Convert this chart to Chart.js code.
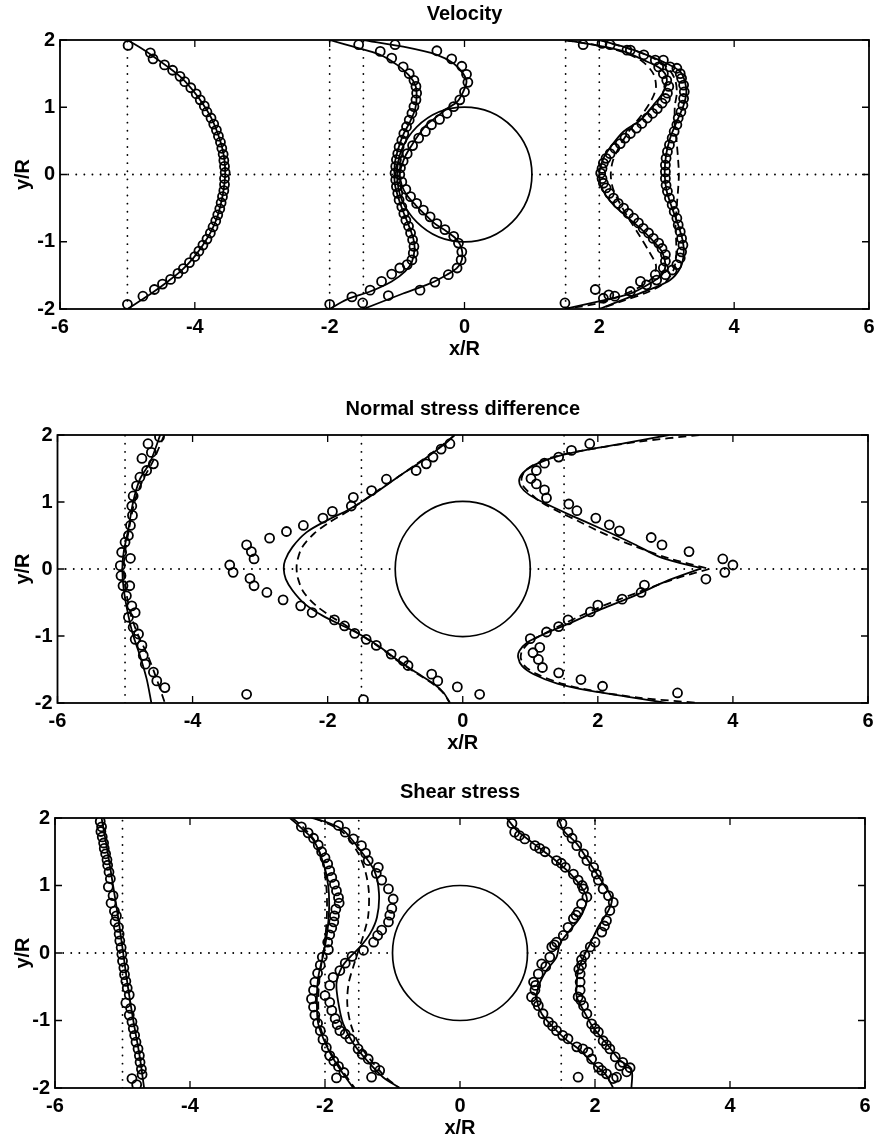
<!DOCTYPE html>
<html>
<head>
<meta charset="utf-8">
<script src="https://cdn.jsdelivr.net/npm/chart.js@4.4.1/dist/chart.umd.min.js"></script>
<style>
  html, body { margin: 0; padding: 0; background: #fff; }
  body { width: 881px; height: 1146px; position: relative; overflow: hidden; }
  canvas { position: absolute; left: 0; }
</style>
</head>
<body>
<canvas id="vel" width="881" height="395" style="top:0px"></canvas>
<canvas id="nsd" width="881" height="383" style="top:395px"></canvas>
<canvas id="shear" width="881" height="368" style="top:778px"></canvas>
<script>
// Axis ticks shared by the three panels
const xTickValues = [-6, -4, -2, 0, 2, 4, 6];
const yTickValues = [-2, -1, 0, 1, 2];
const cylinderRadius = 1;

// Measurement stations (vertical dotted guides)
const velStations = [-5, -2, -1.5, 1.5, 2];
const nsdStations = [-5, -1.5, 1.5];
const shearStations = [-5, -2, -1.5, 1.5, 2];

// ---------- Velocity ----------
const velM5Line = [[-5.00,2.00],[-4.80,1.88],[-4.62,1.76],[-4.40,1.60],[-4.20,1.44],[-4.02,1.24],[-3.88,1.05],[-3.76,0.85],[-3.67,0.64],[-3.60,0.42],[-3.56,0.21],[-3.55,0.00],[-3.57,-0.21],[-3.61,-0.42],[-3.67,-0.64],[-3.76,-0.85],[-3.88,-1.05],[-4.02,-1.24],[-4.20,-1.43],[-4.40,-1.59],[-4.62,-1.75],[-4.80,-1.87],[-5.00,-2.00]];
const velM5Pts = [[-4.99,1.92],[-4.66,1.81],[-4.62,1.72],[-4.45,1.63],[-4.33,1.55],[-4.22,1.46],[-4.15,1.38],[-4.06,1.29],[-3.98,1.20],[-3.92,1.11],[-3.86,1.02],[-3.82,0.93],[-3.76,0.84],[-3.72,0.75],[-3.68,0.66],[-3.65,0.57],[-3.62,0.48],[-3.60,0.39],[-3.58,0.30],[-3.57,0.21],[-3.56,0.12],[-3.55,0.03],[-3.56,-0.06],[-3.56,-0.15],[-3.57,-0.24],[-3.59,-0.33],[-3.61,-0.42],[-3.63,-0.51],[-3.66,-0.60],[-3.69,-0.69],[-3.73,-0.78],[-3.77,-0.87],[-3.82,-0.96],[-3.88,-1.05],[-3.94,-1.14],[-4.00,-1.22],[-4.08,-1.31],[-4.17,-1.40],[-4.25,-1.47],[-4.36,-1.56],[-4.48,-1.63],[-4.60,-1.71],[-4.77,-1.81],[-5.00,-1.93]];

const velM2Line = [[-2.00,2.00],[-1.65,1.90],[-1.25,1.78],[-1.00,1.63],[-0.83,1.48],[-0.73,1.33],[-0.71,1.18],[-0.73,0.98],[-0.81,0.78],[-0.91,0.59],[-0.98,0.39],[-1.03,0.19],[-1.04,0.00],[-1.03,-0.16],[-0.98,-0.35],[-0.91,-0.55],[-0.83,-0.75],[-0.76,-0.95],[-0.74,-1.10],[-0.78,-1.30],[-0.88,-1.44],[-1.08,-1.59],[-1.40,-1.74],[-1.75,-1.86],[-2.00,-2.00]];
const velM2Pts = [[-1.57,1.93],[-1.25,1.83],[-1.08,1.73],[-0.91,1.60],[-0.82,1.50],[-0.75,1.40],[-0.72,1.31],[-0.71,1.21],[-0.72,1.11],[-0.75,1.01],[-0.78,0.91],[-0.82,0.81],[-0.86,0.71],[-0.90,0.61],[-0.93,0.51],[-0.97,0.41],[-0.99,0.31],[-1.01,0.22],[-1.02,0.12],[-1.03,0.02],[-1.02,-0.08],[-1.01,-0.18],[-0.99,-0.28],[-0.97,-0.38],[-0.93,-0.48],[-0.90,-0.58],[-0.87,-0.68],[-0.83,-0.77],[-0.80,-0.87],[-0.77,-0.97],[-0.75,-1.07],[-0.76,-1.17],[-0.78,-1.27],[-0.85,-1.34],[-0.96,-1.39],[-1.08,-1.48],[-1.23,-1.59],[-1.40,-1.72],[-1.67,-1.82],[-2.00,-1.93]];

const velM15Line = [[-1.50,2.00],[-0.91,1.90],[-0.41,1.78],[-0.16,1.65],[-0.02,1.50],[0.03,1.38],[-0.02,1.23],[-0.11,1.08],[-0.26,0.98],[-0.41,0.86],[-0.56,0.74],[-0.68,0.59],[-0.78,0.44],[-0.87,0.29],[-0.93,0.14],[-0.96,0.00],[-0.93,-0.16],[-0.86,-0.30],[-0.73,-0.45],[-0.58,-0.60],[-0.44,-0.73],[-0.26,-0.85],[-0.11,-0.97],[-0.04,-1.12],[-0.04,-1.27],[-0.11,-1.39],[-0.26,-1.49],[-0.51,-1.62],[-0.91,-1.77],[-1.50,-2.00]];
const velM15Pts = [[-1.03,1.93],[-0.41,1.84],[-0.19,1.72],[-0.04,1.61],[0.03,1.49],[0.05,1.37],[0.00,1.23],[-0.07,1.11],[-0.16,1.01],[-0.26,0.91],[-0.37,0.82],[-0.49,0.74],[-0.58,0.64],[-0.68,0.54],[-0.77,0.43],[-0.85,0.31],[-0.91,0.20],[-0.95,0.10],[-0.96,0.00],[-0.93,-0.11],[-0.87,-0.22],[-0.80,-0.33],[-0.71,-0.43],[-0.61,-0.53],[-0.51,-0.63],[-0.41,-0.73],[-0.29,-0.82],[-0.16,-0.92],[-0.09,-1.02],[-0.04,-1.15],[-0.05,-1.27],[-0.11,-1.39],[-0.24,-1.49],[-0.44,-1.60],[-0.66,-1.72],[-1.13,-1.80],[-1.51,-1.91]];

const vel15Line = [[1.49,2.00],[1.96,1.92],[2.36,1.83],[2.66,1.70],[2.90,1.58],[3.00,1.43],[2.95,1.23],[2.80,1.03],[2.61,0.81],[2.36,0.64],[2.19,0.44],[2.07,0.26],[2.01,0.09],[2.00,0.00],[2.02,-0.16],[2.09,-0.30],[2.21,-0.45],[2.41,-0.63],[2.61,-0.80],[2.78,-0.97],[2.93,-1.15],[2.98,-1.34],[2.93,-1.49],[2.75,-1.62],[2.46,-1.77],[2.06,-1.87],[1.49,-2.00]];
const vel15Dash = [[1.49,2.00],[1.96,1.92],[2.36,1.82],[2.64,1.68],[2.80,1.50],[2.84,1.30],[2.78,1.12],[2.64,0.90],[2.45,0.66],[2.30,0.42],[2.20,0.20],[2.17,0.00],[2.20,-0.20],[2.30,-0.42],[2.44,-0.66],[2.59,-0.90],[2.74,-1.15],[2.84,-1.35],[2.80,-1.52],[2.62,-1.66],[2.32,-1.80],[1.96,-1.92],[1.49,-2.00]];
const vel15Pts = [[1.76,1.93],[2.16,1.93],[2.41,1.85],[2.66,1.78],[2.88,1.60],[2.95,1.50],[3.00,1.40],[3.03,1.31],[3.01,1.21],[2.98,1.13],[2.93,1.06],[2.86,0.98],[2.79,0.91],[2.71,0.84],[2.63,0.76],[2.55,0.69],[2.46,0.61],[2.38,0.54],[2.31,0.46],[2.23,0.39],[2.16,0.31],[2.10,0.24],[2.06,0.17],[2.04,0.09],[2.02,0.02],[2.04,-0.06],[2.06,-0.13],[2.10,-0.20],[2.15,-0.28],[2.21,-0.35],[2.28,-0.43],[2.36,-0.50],[2.43,-0.58],[2.51,-0.65],[2.58,-0.72],[2.65,-0.80],[2.73,-0.87],[2.80,-0.95],[2.88,-1.02],[2.93,-1.10],[2.98,-1.19],[2.98,-1.29],[2.95,-1.39],[2.83,-1.49],[2.61,-1.59],[2.14,-1.79],[1.94,-1.71],[1.49,-1.91]];

const vel2Line = [[2.00,2.00],[2.36,1.90],[2.70,1.78],[3.00,1.65],[3.20,1.53],[3.27,1.38],[3.29,1.21],[3.25,1.03],[3.15,0.79],[3.05,0.54],[2.99,0.29],[2.97,0.00],[3.00,-0.25],[3.08,-0.50],[3.17,-0.75],[3.24,-1.00],[3.25,-1.20],[3.20,-1.39],[3.05,-1.57],[2.80,-1.69],[2.46,-1.82],[2.00,-2.00]];
const vel2Dash = [[2.00,2.00],[2.38,1.89],[2.74,1.76],[3.00,1.60],[3.12,1.42],[3.15,1.22],[3.12,1.02],[3.12,0.75],[3.15,0.45],[3.17,0.20],[3.18,0.00],[3.17,-0.20],[3.15,-0.45],[3.13,-0.75],[3.14,-1.00],[3.14,-1.22],[3.10,-1.42],[2.98,-1.60],[2.74,-1.74],[2.38,-1.87],[2.00,-2.00]];
const vel2Pts = [[2.04,1.95],[2.46,1.85],[2.83,1.70],[2.95,1.70],[3.05,1.60],[3.15,1.58],[3.20,1.50],[3.22,1.43],[3.25,1.33],[3.26,1.23],[3.25,1.13],[3.24,1.03],[3.21,0.93],[3.17,0.84],[3.15,0.74],[3.11,0.64],[3.08,0.54],[3.04,0.44],[3.01,0.34],[2.99,0.24],[2.98,0.14],[2.98,0.04],[2.98,-0.06],[2.99,-0.16],[3.01,-0.25],[3.04,-0.35],[3.08,-0.45],[3.11,-0.55],[3.15,-0.65],[3.17,-0.75],[3.20,-0.85],[3.22,-0.95],[3.24,-1.05],[3.22,-1.15],[3.20,-1.24],[3.15,-1.34],[3.08,-1.42],[2.98,-1.49],[2.85,-1.57],[2.70,-1.64],[2.46,-1.74],[2.23,-1.81],[2.06,-1.84]];

// ---------- Normal stress difference ----------
const nsdM5Line = [[-4.48,2.00],[-4.63,1.59],[-4.78,1.34],[-4.88,1.00],[-4.95,0.60],[-5.02,0.25],[-5.04,0.00],[-5.02,-0.30],[-4.95,-0.70],[-4.88,-0.99],[-4.78,-1.29],[-4.68,-1.64],[-4.61,-2.00]];
const nsdM5Dash = [[-4.42,2.00],[-4.58,1.62],[-4.74,1.32],[-4.86,1.00],[-4.94,0.60],[-5.00,0.25],[-5.02,0.00],[-4.99,-0.30],[-4.91,-0.70],[-4.80,-1.00],[-4.66,-1.30],[-4.54,-1.62],[-4.41,-2.00]];
const nsdM5Pts = [[-4.49,1.97],[-4.66,1.87],[-4.61,1.74],[-4.75,1.65],[-4.58,1.57],[-4.68,1.47],[-4.78,1.37],[-4.83,1.24],[-4.88,1.09],[-4.90,0.94],[-4.89,0.80],[-4.92,0.65],[-4.95,0.50],[-5.00,0.40],[-5.05,0.25],[-4.92,0.16],[-5.07,0.05],[-5.06,-0.10],[-5.03,-0.25],[-4.93,-0.25],[-4.98,-0.40],[-4.90,-0.55],[-4.85,-0.65],[-4.95,-0.72],[-4.88,-0.87],[-4.80,-0.97],[-4.85,-1.05],[-4.75,-1.14],[-4.73,-1.29],[-4.70,-1.42],[-4.58,-1.54],[-4.53,-1.67],[-4.41,-1.77]];

const nsdM15Line = [[-0.12,2.00],[-0.25,1.88],[-0.42,1.75],[-0.68,1.56],[-0.95,1.38],[-1.23,1.18],[-1.50,1.00],[-1.72,0.87],[-2.02,0.72],[-2.31,0.55],[-2.52,0.33],[-2.63,0.13],[-2.65,0.00],[-2.62,-0.15],[-2.52,-0.32],[-2.34,-0.52],[-2.07,-0.70],[-1.77,-0.85],[-1.50,-0.99],[-1.23,-1.16],[-0.95,-1.37],[-0.68,-1.55],[-0.42,-1.72],[-0.28,-1.85],[-0.19,-2.00]];
const nsdM15Dash = [[-0.12,2.00],[-0.25,1.89],[-0.42,1.76],[-0.68,1.57],[-0.95,1.38],[-1.23,1.19],[-1.50,1.00],[-1.72,0.85],[-1.97,0.70],[-2.20,0.53],[-2.38,0.32],[-2.45,0.12],[-2.46,0.00],[-2.44,-0.14],[-2.36,-0.34],[-2.18,-0.54],[-1.96,-0.70],[-1.72,-0.85],[-1.50,-0.99],[-1.23,-1.17],[-0.95,-1.38],[-0.68,-1.56],[-0.42,-1.73],[-0.28,-1.86],[-0.19,-2.00]];
const nsdM15Pts = [[-3.45,0.06],[-3.40,-0.05],[-3.20,0.36],[-3.13,0.26],[-3.09,0.15],[-3.15,-0.14],[-3.09,-0.25],[-2.90,-0.35],[-2.66,-0.46],[-2.40,-0.55],[-2.23,-0.65],[-2.86,0.46],[-2.61,0.56],[-2.36,0.65],[-2.07,0.76],[-1.93,0.86],[-1.65,0.94],[-1.62,1.07],[-1.35,1.17],[-1.13,1.34],[-0.69,1.47],[-0.54,1.57],[-0.44,1.67],[-0.32,1.79],[-0.19,1.87],[-1.90,-0.76],[-1.75,-0.85],[-1.60,-0.96],[-1.43,-1.05],[-1.28,-1.14],[-1.06,-1.27],[-0.88,-1.37],[-0.81,-1.44],[-0.46,-1.57],[-0.37,-1.67],[-3.20,-1.87],[-1.47,-1.95],[-0.08,-1.76],[0.25,-1.87]];

const nsd15UpperLine = [[3.05,2.00],[2.40,1.88],[1.85,1.78],[1.40,1.68],[1.12,1.58],[0.93,1.47],[0.84,1.35],[0.86,1.23],[0.98,1.11],[1.18,1.00],[1.56,0.82],[2.05,0.60],[2.54,0.37],[2.94,0.17],[3.53,0.01]];
const nsd15LowerLine = [[3.53,0.01],[3.04,-0.17],[2.54,-0.40],[2.05,-0.60],[1.56,-0.82],[1.16,-0.99],[0.95,-1.10],[0.84,-1.22],[0.82,-1.32],[0.88,-1.45],[1.05,-1.57],[1.40,-1.71],[1.90,-1.82],[2.40,-1.90],[3.02,-2.00]];
const nsd15UpperDash = [[3.50,2.00],[2.60,1.90],[1.90,1.79],[1.40,1.69],[1.10,1.58],[0.93,1.47],[0.87,1.35],[0.90,1.23],[1.02,1.11],[1.14,1.01],[1.45,0.84],[1.70,0.72],[1.98,0.58],[2.27,0.45],[2.60,0.32],[3.05,0.16],[3.65,0.00]];
const nsd15LowerDash = [[3.65,0.00],[3.13,-0.15],[2.59,-0.35],[2.30,-0.46],[1.98,-0.59],[1.70,-0.72],[1.45,-0.84],[1.14,-1.00],[0.98,-1.10],[0.88,-1.22],[0.86,-1.33],[0.92,-1.45],[1.10,-1.57],[1.50,-1.72],[2.00,-1.83],[2.60,-1.92],[3.50,-2.00]];
const nsd15Pts = [[1.88,1.87],[1.61,1.77],[1.42,1.67],[1.21,1.58],[1.09,1.47],[1.01,1.35],[1.09,1.27],[1.21,1.18],[1.24,1.06],[1.57,0.97],[1.69,0.87],[1.97,0.76],[2.17,0.66],[2.32,0.57],[2.79,0.47],[2.95,0.36],[3.35,0.26],[3.85,0.15],[4.00,0.06],[3.88,-0.05],[3.60,-0.15],[2.69,-0.24],[2.64,-0.35],[2.36,-0.45],[2.00,-0.54],[1.89,-0.64],[1.56,-0.76],[1.42,-0.86],[1.24,-0.94],[1.00,-1.04],[1.14,-1.17],[1.04,-1.25],[1.12,-1.35],[1.18,-1.47],[1.42,-1.55],[1.75,-1.65],[2.07,-1.75],[3.18,-1.85]];

// ---------- Shear stress ----------
const shM5Line = [[-5.31,2.00],[-5.22,1.50],[-5.14,1.00],[-5.06,0.50],[-4.99,0.00],[-4.92,-0.50],[-4.84,-1.00],[-4.75,-1.50],[-4.68,-2.00]];
const shM5Pts = [[-5.33,1.95],[-5.31,1.87],[-5.32,1.80],[-5.30,1.72],[-5.28,1.63],[-5.27,1.55],[-5.25,1.47],[-5.23,1.38],[-5.22,1.30],[-5.20,1.20],[-5.18,1.10],[-5.21,0.98],[-5.14,0.85],[-5.17,0.74],[-5.12,0.62],[-5.09,0.55],[-5.11,0.46],[-5.06,0.38],[-5.05,0.28],[-5.04,0.18],[-5.02,0.08],[-5.01,-0.02],[-5.00,-0.12],[-4.98,-0.22],[-4.97,-0.32],[-4.95,-0.42],[-4.93,-0.52],[-4.90,-0.62],[-4.95,-0.74],[-4.88,-0.82],[-4.90,-0.92],[-4.86,-1.02],[-4.84,-1.12],[-4.82,-1.22],[-4.80,-1.32],[-4.77,-1.42],[-4.75,-1.52],[-4.74,-1.62],[-4.72,-1.72],[-4.71,-1.80],[-4.86,-1.86],[-4.79,-1.95]];

const shM2Line = [[-2.52,2.00],[-2.35,1.85],[-2.17,1.67],[-2.02,1.32],[-1.95,0.98],[-1.94,0.63],[-1.97,0.29],[-2.02,0.00],[-2.10,-0.36],[-2.12,-0.70],[-2.10,-1.05],[-1.97,-1.39],[-1.80,-1.69],[-1.58,-2.00]];
const shM2Dash = [[-2.48,2.00],[-2.30,1.84],[-2.14,1.64],[-2.03,1.32],[-1.98,0.98],[-1.97,0.63],[-1.99,0.29],[-2.03,0.00],[-2.08,-0.36],[-2.10,-0.70],[-2.08,-1.05],[-1.96,-1.39],[-1.78,-1.69],[-1.56,-2.00]];
const shM2Pts = [[-2.35,1.87],[-2.25,1.78],[-2.17,1.70],[-2.10,1.60],[-2.05,1.50],[-2.00,1.41],[-1.96,1.32],[-1.93,1.22],[-1.90,1.12],[-1.86,1.02],[-1.83,0.92],[-1.80,0.82],[-1.79,0.74],[-1.84,0.65],[-1.86,0.55],[-1.87,0.46],[-1.90,0.37],[-1.93,0.27],[-1.96,0.16],[-1.95,0.05],[-2.04,-0.06],[-2.07,-0.18],[-2.11,-0.30],[-2.15,-0.43],[-2.17,-0.55],[-2.20,-0.68],[-2.17,-0.80],[-2.15,-0.92],[-2.11,-1.04],[-2.07,-1.15],[-2.03,-1.28],[-1.98,-1.40],[-1.93,-1.52],[-1.87,-1.60],[-1.80,-1.68],[-1.72,-1.77],[-1.83,-1.85]];

const shM15Line = [[-2.20,2.00],[-1.95,1.93],[-1.73,1.82],[-1.50,1.55],[-1.27,1.22],[-1.20,0.88],[-1.23,0.53],[-1.33,0.29],[-1.48,0.09],[-1.63,-0.06],[-1.75,-0.21],[-1.83,-0.45],[-1.80,-0.75],[-1.73,-1.05],[-1.58,-1.34],[-1.38,-1.59],[-1.14,-1.84],[-0.89,-2.00]];
const shM15Dash = [[-2.15,2.00],[-1.75,1.80],[-1.52,1.50],[-1.40,1.20],[-1.35,0.90],[-1.36,0.55],[-1.42,0.30],[-1.50,0.05],[-1.58,-0.20],[-1.65,-0.45],[-1.67,-0.75],[-1.62,-1.05],[-1.50,-1.34],[-1.32,-1.59],[-1.10,-1.84],[-0.90,-2.00]];
const shM15Pts = [[-1.80,1.89],[-1.70,1.79],[-1.58,1.69],[-1.46,1.59],[-1.40,1.48],[-1.36,1.37],[-1.21,1.27],[-1.24,1.18],[-1.16,1.08],[-1.06,0.95],[-0.99,0.80],[-1.01,0.66],[-1.04,0.56],[-1.06,0.46],[-1.16,0.34],[-1.22,0.26],[-1.28,0.16],[-1.43,0.04],[-1.60,-0.05],[-1.70,-0.15],[-1.78,-0.26],[-1.88,-0.36],[-1.93,-0.48],[-2.00,-0.63],[-1.93,-0.73],[-1.90,-0.85],[-1.85,-0.97],[-1.82,-1.06],[-1.78,-1.15],[-1.70,-1.20],[-1.63,-1.27],[-1.51,-1.42],[-1.45,-1.50],[-1.36,-1.57],[-1.26,-1.69],[-1.19,-1.74],[-1.31,-1.84]];

const sh15Line = [[0.69,2.00],[0.84,1.82],[1.09,1.62],[1.38,1.40],[1.63,1.18],[1.83,0.93],[1.88,0.78],[1.78,0.53],[1.63,0.34],[1.48,0.14],[1.43,-0.06],[1.28,-0.26],[1.16,-0.50],[1.14,-0.70],[1.21,-0.90],[1.38,-1.10],[1.58,-1.29],[1.78,-1.44],[1.97,-1.64],[2.15,-1.79],[2.27,-2.00]];
const sh15Pts = [[0.77,1.92],[0.81,1.79],[0.88,1.74],[0.96,1.69],[1.11,1.59],[1.18,1.55],[1.26,1.50],[1.43,1.37],[1.50,1.33],[1.56,1.27],[1.68,1.17],[1.75,1.08],[1.81,1.00],[1.83,0.95],[1.88,0.83],[1.80,0.73],[1.75,0.61],[1.72,0.56],[1.68,0.51],[1.60,0.38],[1.53,0.26],[1.43,0.16],[1.40,0.12],[1.36,0.09],[1.33,-0.06],[1.21,-0.16],[1.27,-0.20],[1.16,-0.31],[1.09,-0.43],[1.12,-0.48],[1.11,-0.55],[1.06,-0.65],[1.13,-0.72],[1.16,-0.78],[1.23,-0.90],[1.31,-1.02],[1.37,-1.08],[1.43,-1.15],[1.52,-1.22],[1.60,-1.27],[1.73,-1.39],[1.82,-1.42],[1.90,-1.47],[1.95,-1.57],[2.05,-1.69],[2.10,-1.74],[2.17,-1.79],[2.27,-1.86],[1.75,-1.84]];

const sh2Line = [[1.46,2.00],[1.53,1.82],[1.73,1.62],[1.93,1.32],[2.12,1.03],[2.25,0.80],[2.20,0.63],[2.05,0.39],[1.93,0.14],[1.83,-0.06],[1.75,-0.26],[1.73,-0.46],[1.73,-0.65],[1.83,-0.85],[1.97,-1.10],[2.17,-1.34],[2.37,-1.59],[2.54,-1.72],[2.54,-2.00]];
const sh2Pts = [[1.51,1.92],[1.60,1.79],[1.66,1.70],[1.73,1.59],[1.83,1.47],[1.88,1.37],[1.98,1.27],[2.02,1.17],[2.05,1.08],[2.12,0.95],[2.20,0.85],[2.27,0.75],[2.22,0.63],[2.17,0.48],[2.14,0.40],[2.10,0.31],[2.00,0.16],[1.93,0.09],[1.85,-0.03],[1.80,-0.10],[1.80,-0.18],[1.76,-0.24],[1.78,-0.31],[1.78,-0.43],[1.78,-0.55],[1.75,-0.65],[1.79,-0.70],[1.83,-0.78],[1.88,-0.90],[1.95,-1.05],[2.00,-1.12],[2.05,-1.17],[2.12,-1.30],[2.17,-1.36],[2.22,-1.42],[2.30,-1.54],[2.41,-1.62],[2.37,-1.67],[2.52,-1.70],[2.47,-1.76],[2.32,-1.84]];

// ---------- helpers ----------
const toXY = arr => arr.map(([x, y]) => ({ x, y }));
const INK = '#000';
const FONT = '"Liberation Sans", Arial, Helvetica, sans-serif';

function solid(data) {
  return { data: toXY(data), showLine: true, borderColor: INK, borderWidth: 1.8,
           pointRadius: 0, tension: 0.3, fill: false };
}
function dashed(data) {
  return Object.assign(solid(data), { borderDash: [8, 5] });
}
function markers(data) {
  return { data: toXY(data), showLine: false, pointStyle: 'circle', pointRadius: 4.5,
           pointBorderWidth: 1.8, pointBorderColor: INK, pointBackgroundColor: 'rgba(0,0,0,0)' };
}
const dotStyle = { showLine: true, borderColor: INK, borderWidth: 1.8, borderDash: [0.1, 8],
                   borderCapStyle: 'round', pointRadius: 0, tension: 0, fill: false };
function guides(stations) {
  const yLo = yTickValues[0], yHi = yTickValues[yTickValues.length - 1];
  const xLo = xTickValues[0], xHi = xTickValues[xTickValues.length - 1];
  const sets = stations.map(s => Object.assign({ data: [{ x: s, y: yLo }, { x: s, y: yHi }] }, dotStyle));
  sets.push(Object.assign({ data: [{ x: xLo, y: 0 }, { x: -cylinderRadius, y: 0 }] }, dotStyle));
  sets.push(Object.assign({ data: [{ x: cylinderRadius, y: 0 }, { x: xHi, y: 0 }] }, dotStyle));
  return sets;
}

// Cylinder outline, plot frame and inward tick marks
const framePlugin = {
  id: 'frame',
  beforeDatasetsDraw(chart) {
    const { ctx } = chart;
    const xs = chart.scales.x, ys = chart.scales.y;
    const cx = xs.getPixelForValue(0), cy = ys.getPixelForValue(0);
    const r = xs.getPixelForValue(cylinderRadius) - cx;
    ctx.save();
    ctx.beginPath();
    ctx.arc(cx, cy, r, 0, Math.PI * 2);
    ctx.lineWidth = 1.7;
    ctx.strokeStyle = INK;
    ctx.stroke();
    ctx.restore();
  },
  afterDatasetsDraw(chart) {
    const { ctx, chartArea: a } = chart;
    const xs = chart.scales.x, ys = chart.scales.y;
    const len = 7;
    ctx.save();
    ctx.strokeStyle = INK;
    ctx.lineWidth = 1.3;
    ctx.beginPath();
    xTickValues.forEach(v => {
      const px = xs.getPixelForValue(v);
      ctx.moveTo(px, a.bottom); ctx.lineTo(px, a.bottom - len);
      ctx.moveTo(px, a.top); ctx.lineTo(px, a.top + len);
    });
    yTickValues.forEach(v => {
      const py = ys.getPixelForValue(v);
      ctx.moveTo(a.left, py); ctx.lineTo(a.left + len, py);
      ctx.moveTo(a.right, py); ctx.lineTo(a.right - len, py);
    });
    ctx.stroke();
    ctx.lineWidth = 1.8;
    ctx.strokeRect(a.left, a.top, a.right - a.left, a.bottom - a.top);
    ctx.restore();
  }
};

function makeChart(id, cfg) {
  const textFont = { family: FONT, size: 20, weight: 'bold' };
  return new Chart(document.getElementById(id), {
    type: 'scatter',
    data: { datasets: cfg.datasets },
    options: {
      responsive: false,
      animation: false,
      events: [],
      layout: { padding: { left: 0, right: cfg.right, top: 0, bottom: cfg.bottom } },
      plugins: {
        legend: { display: false },
        tooltip: { enabled: false },
        title: { display: true, text: cfg.title, fullSize: false, color: INK,
                 font: textFont, padding: { top: 2, bottom: 14 } }
      },
      scales: {
        x: {
          type: 'linear', position: 'bottom', min: xTickValues[0], max: xTickValues[xTickValues.length - 1],
          afterBuildTicks: s => { s.ticks = xTickValues.map(v => ({ value: v })); },
          afterFit: s => { s.height = 52; },
          grid: { display: false, drawTicks: false },
          border: { display: false },
          ticks: { padding: 6, autoSkip: false, maxRotation: 0, color: INK, font: textFont },
          title: { display: true, text: 'x/R', color: INK, font: textFont, padding: { top: 0, bottom: 0 } }
        },
        y: {
          type: 'linear', position: 'left', min: yTickValues[0], max: yTickValues[yTickValues.length - 1],
          afterBuildTicks: s => { s.ticks = yTickValues.map(v => ({ value: v })); },
          afterFit: s => { s.width = cfg.left; },
          grid: { display: false, drawTicks: false },
          border: { display: false },
          ticks: { padding: 5, autoSkip: false, color: INK, font: textFont },
          title: { display: true, text: 'y/R', color: INK, font: textFont, padding: { top: 11, bottom: 0 } }
        }
      }
    },
    plugins: [framePlugin]
  });
}

makeChart('vel', {
  title: 'Velocity', left: 60, right: 12, bottom: 34,
  datasets: [
    ...guides(velStations),
    solid(velM5Line), markers(velM5Pts),
    solid(velM2Line), markers(velM2Pts),
    solid(velM15Line), markers(velM15Pts),
    dashed(vel15Dash), solid(vel15Line), markers(vel15Pts),
    dashed(vel2Dash), solid(vel2Line), markers(vel2Pts)
  ]
});

makeChart('nsd', {
  title: 'Normal stress difference', left: 57.5, right: 13, bottom: 23,
  datasets: [
    ...guides(nsdStations),
    dashed(nsdM5Dash), solid(nsdM5Line), markers(nsdM5Pts),
    dashed(nsdM15Dash), solid(nsdM15Line), markers(nsdM15Pts),
    dashed(nsd15UpperDash), dashed(nsd15LowerDash),
    solid(nsd15UpperLine), solid(nsd15LowerLine), markers(nsd15Pts)
  ]
});

makeChart('shear', {
  title: 'Shear stress', left: 55, right: 16, bottom: 6,
  datasets: [
    ...guides(shearStations),
    solid(shM5Line), markers(shM5Pts),
    dashed(shM2Dash), solid(shM2Line), markers(shM2Pts),
    dashed(shM15Dash), solid(shM15Line), markers(shM15Pts),
    solid(sh15Line), markers(sh15Pts),
    solid(sh2Line), markers(sh2Pts)
  ]
});
</script>
</body>
</html>
